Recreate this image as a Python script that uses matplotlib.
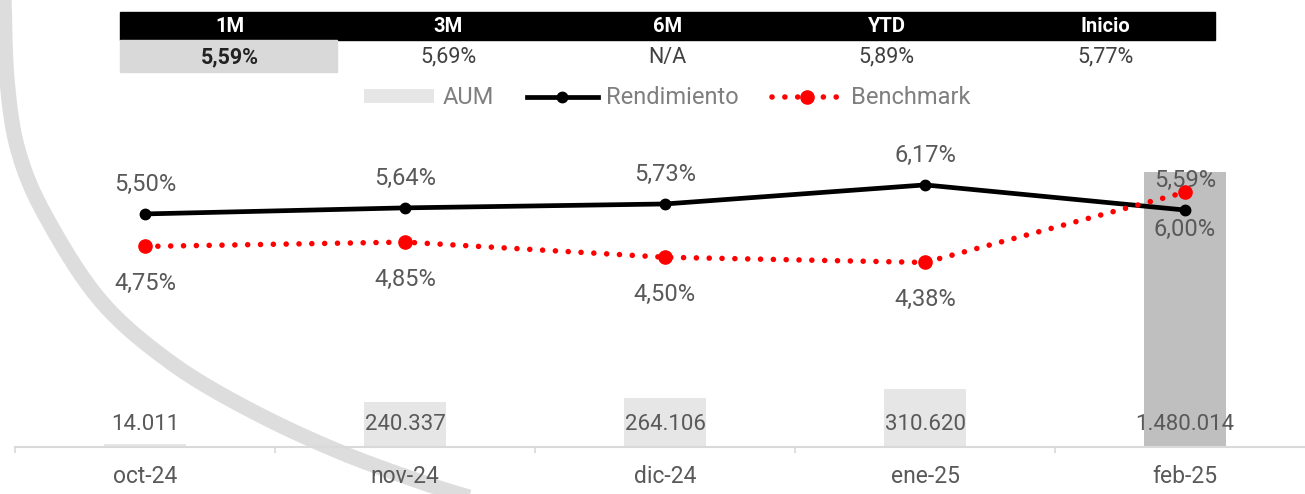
import numpy as np
import matplotlib.pyplot as plt
from matplotlib.lines import Line2D
from matplotlib.patches import Rectangle, Patch

months = ['oct-24', 'nov-24', 'dic-24', 'ene-25', 'feb-25']
aum = [14011, 240337, 264106, 310620, 1480014]
aum_labels = ['14.011', '240.337', '264.106', '310.620', '1.480.014']
rend = [5.50, 5.64, 5.73, 6.17, 5.59]
bench = [4.75, 4.85, 4.50, 4.38, 6.00]
periods = ['1M', '3M', '6M', 'YTD', 'Inicio']
period_vals = ['5,59%', '5,69%', 'N/A', '5,89%', '5,77%']

plt.rcParams['font.family'] = ['Roboto', 'DejaVu Sans']
W, H = 1305, 494
fig = plt.figure(figsize=(W / 100, H / 100), dpi=100)


def fx(px):
    return px / W


def fy(py):
    return 1 - py / H


# background watermark arc (smoothed through a few guide points)
guide = np.array([(3, -20), (4, 0), (7, 80), (18, 150), (45, 215), (100, 300),
                  (170, 362), (250, 410), (340, 452), (430, 485), (480, 500), (520, 510)], float)
pts = []
for k in range(1, len(guide) - 2):
    p0, p1, p2, p3 = guide[k - 1], guide[k], guide[k + 1], guide[k + 2]
    for t in np.linspace(0, 1, 20):
        pts.append(0.5 * (2 * p1 + (-p0 + p2) * t + (2 * p0 - 5 * p1 + 4 * p2 - p3) * t ** 2
                          + (-p0 + 3 * p1 - 3 * p2 + p3) * t ** 3))
pts = np.array(pts)
fig.add_artist(Line2D(fx(pts[:, 0]), fy(pts[:, 1]), color='#dddddd', lw=11,
                      solid_joinstyle='round', zorder=-5))

# table
col_w = 219
fig.add_artist(Rectangle((fx(120), fy(40)), fx(col_w * 5), 28 / H, color='black', zorder=1))
fig.add_artist(Rectangle((fx(120), fy(72)), fx(217), 32 / H, color='#d9d9d9', zorder=1))
for i, (p, v) in enumerate(zip(periods, period_vals)):
    cx = fx(120 + col_w * (i + 0.5))
    fig.text(cx, fy(27), p, color='white', fontsize=14.5, fontweight='bold',
             ha='center', va='center', zorder=2)
    fig.text(cx, fy(57), v, color='#222222' if i == 0 else '#404040', fontsize=15.5,
             fontweight='bold' if i == 0 else 'normal', ha='center', va='center', zorder=2)

# main axes
ax = fig.add_axes([fx(15), fy(447), fx(1300), (447 - 100) / H])
ax.patch.set_visible(False)
x = np.arange(len(months))
ax.bar(x, aum, width=0.315, color=['#e6e6e6'] * 4 + ['#bfbfbf'], zorder=1)
ax.set_xlim(-0.5, 4.5)
ax.set_ylim(0, max(aum) * 1.262)
for s in ['top', 'right', 'left']:
    ax.spines[s].set_visible(False)
ax.spines['bottom'].set_color('#d9d9d9')
ax.spines['bottom'].set_linewidth(1.5)
ax.set_yticks([])
ax.set_xticks(x, months)
ax.set_xticks(np.arange(-0.5, 5, 1), minor=True)
ax.tick_params(axis='x', which='major', length=0, pad=13, labelsize=16.5, labelcolor='#595959')
ax.tick_params(axis='x', which='minor', length=4.5, width=1.2, color='#d9d9d9')
for i, lab in enumerate(aum_labels):
    ax.annotate(lab, (i, 0), xytext=(0, 16.5), textcoords='offset points',
                ha='center', va='center', fontsize=16, color='#595959')

ax2 = ax.twinx()
ax2.set_ylim(0.12, 8.13)
ax2.axis('off')
ax2.plot(x, rend, color='black', lw=3.4, marker='o', ms=7.5, zorder=3)
ax2.plot(x, bench, color='#ff0000', lw=4, ls=(0, (0.01, 2.3)), dash_capstyle='round',
         marker='o', ms=9.5, zorder=3)
for i, v in enumerate(rend):
    ax2.annotate(f'{v:.2f}%'.replace('.', ','), (i, v), xytext=(0, 21.5),
                 textcoords='offset points', ha='center', va='center',
                 fontsize=17, color='#595959')
for i, v in enumerate(bench):
    ax2.annotate(f'{v:.2f}%'.replace('.', ','), (i, v), xytext=(0, -27),
                 textcoords='offset points', ha='center', va='center',
                 fontsize=17, color='#595959')

# legend
handles = [Patch(facecolor='#e6e6e6', edgecolor='none'),
           Line2D([], [], color='black', lw=3.4, marker='o', ms=7.5),
           Line2D([], [], color='#ff0000', lw=4, ls=(0, (0.01, 2.3)), dash_capstyle='round',
                  marker='o', ms=9.5)]
fig.legend(handles, ['AUM', 'Rendimiento', 'Benchmark'], loc='center',
           bbox_to_anchor=(fx(667), fy(98)), ncol=3, frameon=False, fontsize=17,
           labelcolor='#7f7f7f', handlelength=3.0, handletextpad=0.35,
           columnspacing=1.4, handleheight=0.5)

fig.savefig('out.png', dpi=100)
